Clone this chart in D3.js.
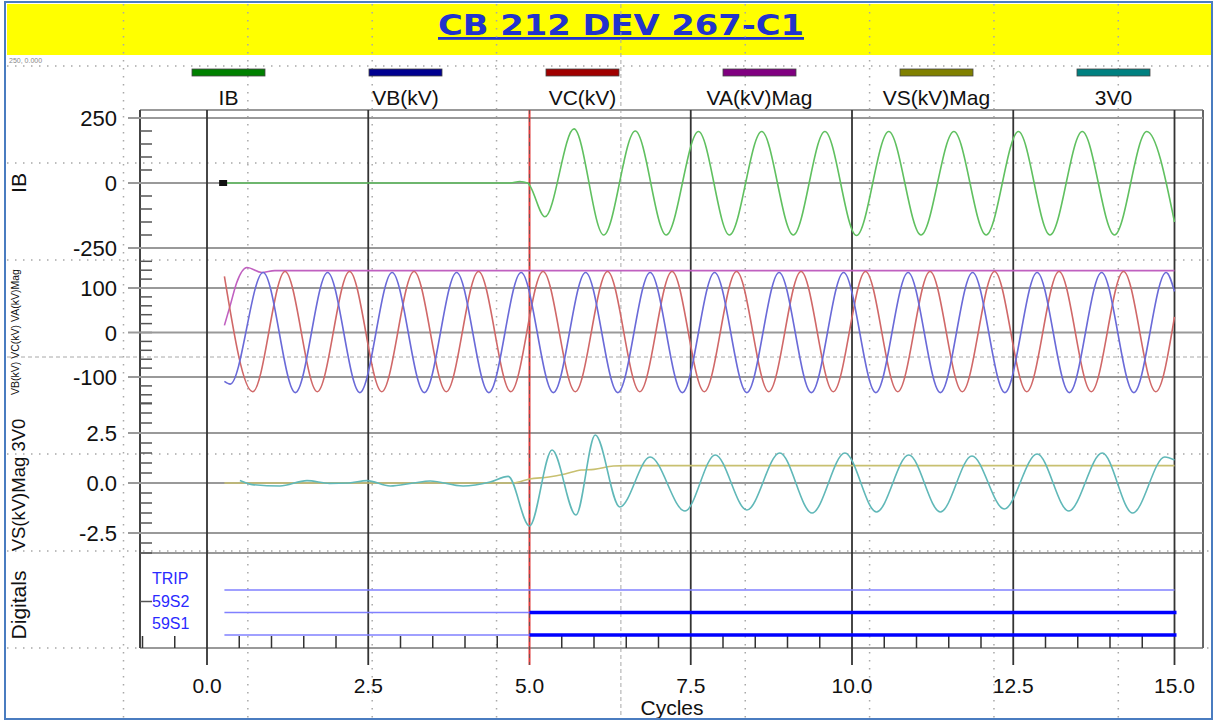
<!DOCTYPE html>
<html lang="en">
  <head>
    <meta charset="UTF-8" />
    <title>CB 212 DEV 267-C1</title>
    <script src="https://d3js.org/d3.v7.min.js"></script>
    <style>
      body {
        margin: 0;
        background: #fff;
        font-family: "Liberation Sans", Arial, sans-serif;
      }
      svg text {
        font-family: "Liberation Sans", Arial, sans-serif;
      }
    </style>
  </head>
  <body>
    <script>
      // ---- data ----
      const title = "CB 212 DEV 267-C1";
      const seriesNames = ["IB", "VB(kV)", "VC(kV)", "VA(kV)Mag", "VS(kV)Mag", "3V0"];
      const legendColors = ["#008000", "#000090", "#a00000", "#800080", "#808000", "#008080"];
      const lineColors = ["#60c060", "#6a6ad8", "#d06868", "#c060c0", "#c8c070", "#60b8b8"];

      // [cycle, value] at the turning points of each trace
      const ibPts = [
        [0.3, 0], [4.7, 0], [4.85, 6], [4.97, 0], [5.24, -130], [5.69, 208],
        [6.15, -200], [6.64, 200], [7.12, -200], [7.62, 198], [8.1, -200],
        [8.6, 198], [9.09, -200], [9.58, 198], [10.07, -202], [10.57, 198],
        [11.07, -200], [11.58, 198], [12.08, -200], [12.58, 198], [13.07, -200],
        [13.57, 198], [14.07, -200], [14.57, 198], [15.0, -150]
      ];
      const vbPts = [
        [0.27, -110], [0.36, -116], [0.87, 135], [1.37, -135], [1.87, 135],
        [2.37, -135], [2.87, 135], [3.37, -135], [3.87, 135], [4.37, -135],
        [4.87, 135], [5.37, -135], [5.87, 135], [6.37, -135], [6.87, 135],
        [7.37, -135], [7.87, 135], [8.37, -135], [8.87, 135], [9.37, -135],
        [9.87, 135], [10.37, -135], [10.87, 135], [11.37, -135], [11.87, 135],
        [12.37, -135], [12.87, 135], [13.37, -135], [13.87, 135], [14.37, -135],
        [14.87, 135], [15.0, 92]
      ];
      const vcPts = [
        [0.27, 126], [0.71, -133], [1.21, 137], [1.71, -133], [2.21, 137],
        [2.71, -133], [3.21, 137], [3.71, -133], [4.21, 137], [4.71, -133],
        [5.21, 137], [5.71, -133], [6.21, 137], [6.71, -133], [7.21, 137],
        [7.71, -133], [8.21, 137], [8.71, -133], [9.21, 137], [9.71, -133],
        [10.21, 137], [10.71, -133], [11.21, 137], [11.71, -133], [12.21, 137],
        [12.71, -133], [13.21, 137], [13.71, -133], [14.21, 137], [14.71, -133],
        [15.0, 35]
      ];
      const vaPts = [
        [0.27, 16], [0.36, 61], [0.46, 112], [0.62, 146], [0.85, 135],
        [1.05, 139], [15.0, 139]
      ];
      const vsPts = [
        [0.27, 0], [4.75, 0], [5.0, 0.2], [5.3, 0.3], [5.55, 0.45], [5.8, 0.65],
        [6.0, 0.68], [6.3, 0.85], [6.5, 0.87], [15.0, 0.87]
      ];
      const v0Pts = [
        [0.51, 0.12], [0.7, -0.08], [1.13, -0.15], [1.55, 0.12], [1.9, -0.02],
        [2.2, 0], [2.48, 0.12], [2.84, -0.15], [3.2, 0], [3.46, 0.1],
        [3.97, -0.15], [4.39, 0.05], [4.67, 0.33], [5.0, -2.15], [5.35, 1.65],
        [5.72, -1.6], [6.02, 2.4], [6.4, -1.2], [6.87, 1.3], [7.41, -1.4],
        [7.88, 1.4], [8.37, -1.35], [8.88, 1.5], [9.38, -1.5], [9.89, 1.5],
        [10.38, -1.45], [10.88, 1.4], [11.37, -1.45], [11.86, 1.35], [12.36, -1.3],
        [12.87, 1.45], [13.36, -1.4], [13.88, 1.5], [14.35, -1.5], [14.85, 1.3],
        [15.0, 1.15]
      ];

      const digitals = ["TRIP", "59S2", "59S1"];
      const digitalOn = [null, 5.0, 5.0]; // cycle where the bit goes high
      const digitalStart = 0.27;
      const digitalEnd = 15.0;
      const triggerCycle = 5.0;
      const markerCycle = 0.25;

      const xTicks = [0, 2.5, 5, 7.5, 10, 12.5, 15];
      const ibTicks = [250, 0, -250];
      const vTicks = [100, 0, -100];
      const v0Ticks = [2.5, 0, -2.5];

      // ---- layout ----
      const width = 1216;
      const height = 721;
      const plotLeft = 140;
      const plotRight = 1203;
      const plotTop = 110;
      const plotBottom = 648;

      const svg = d3
        .select("body")
        .append("svg")
        .attr("width", width)
        .attr("height", height);

      const x = d3.scaleLinear().domain([0, 15]).range([207, 1174.5]);
      const yIB = d3.scaleLinear().domain([-250, 250]).range([248, 118]);
      const yV = d3.scaleLinear().domain([-100, 100]).range([377, 288]);
      const y0 = d3.scaleLinear().domain([-2.5, 2.5]).range([533, 433]);
      const yDig = d3.scalePoint().domain(digitals).range([590, 635]);

      // plain hyphen minus, like the recorder's labels
      const hyphen = (f) => (v) => f(v).replace("\u2212", "-");

      // title bar
      svg.append("rect").attr("x", 7).attr("y", 4).attr("width", 1204).attr("height", 51).attr("fill", "#ffff00");
      svg
        .append("text")
        .attr("x", 621)
        .attr("y", 35)
        .attr("text-anchor", "middle")
        .attr("font-size", 28)
        .attr("font-weight", "bold")
        .attr("textLength", 366)
        .attr("lengthAdjust", "spacingAndGlyphs")
        .attr("fill", "#2233cc")
        .style("font-family", "'DejaVu Sans', Arial, sans-serif")
        .style("text-decoration", "underline")
        .text(title);

      // screen grid (dotted)
      const gridG = svg.append("g");
      d3.range(9).forEach((k) => {
        const gx = 123.5 + 124.35 * k;
        gridG
          .append("line")
          .attr("x1", gx).attr("x2", gx).attr("y1", 4).attr("y2", 719)
          .attr("stroke", "#a8a8a8")
          .attr("stroke-width", k === 4 ? 1 : 1.5)
          .attr("stroke-dasharray", k === 4 ? "4,3" : "1.5,6.5");
      });
      d3.range(7).forEach((k) => {
        const gy = 66 + 97 * k;
        gridG
          .append("line")
          .attr("x1", 7).attr("x2", 1211).attr("y1", gy).attr("y2", gy)
          .attr("stroke", "#a8a8a8")
          .attr("stroke-width", k === 3 ? 1 : 1.5)
          .attr("stroke-dasharray", k === 3 ? "4,3" : "1.5,6.5");
      });
      svg.append("text").attr("x", 9).attr("y", 63).attr("font-size", 7).attr("fill", "#888").text("250, 0.000");

      // legend
      const legend = svg.append("g");
      seriesNames.forEach((name, i) => {
        const cx = 228.5 + 177 * i;
        legend
          .append("rect")
          .attr("x", cx - 36.5).attr("y", 69).attr("width", 73).attr("height", 7)
          .attr("fill", legendColors[i]).attr("stroke", "#444").attr("stroke-width", 0.8);
        legend
          .append("text")
          .attr("x", cx).attr("y", 105)
          .attr("text-anchor", "middle")
          .attr("font-size", 21)
          .attr("fill", "#111")
          .text(name);
      });

      // frame
      const frame = svg.append("g");
      const hLine = (yy, color) =>
        frame.append("line").attr("x1", plotLeft).attr("x2", plotRight).attr("y1", yy).attr("y2", yy).attr("stroke", color).attr("stroke-width", 2);
      hLine(plotTop, "#999");
      hLine(553, "#999");
      hLine(plotBottom, "#999");
      frame.append("line").attr("x1", plotRight).attr("x2", plotRight).attr("y1", plotTop).attr("y2", plotBottom).attr("stroke", "#666").attr("stroke-width", 2);
      frame.append("line").attr("x1", plotLeft).attr("x2", plotLeft).attr("y1", plotTop).attr("y2", plotBottom).attr("stroke", "#444").attr("stroke-width", 2);

      // horizontal grid lines + value labels per panel
      const panels = [
        { scale: yIB, ticks: ibTicks, fmt: hyphen(d3.format("d")), minor: d3.range(-250, 251, 50) },
        { scale: yV, ticks: vTicks, fmt: hyphen(d3.format("d")), minor: d3.range(-160, 161, 20) },
        { scale: y0, ticks: v0Ticks, fmt: hyphen(d3.format(".1f")), minor: d3.range(-3.5, 4.01, 0.5) }
      ];
      panels.forEach((p) => {
        p.minor.forEach((v) => {
          frame
            .append("line")
            .attr("x1", plotLeft).attr("x2", plotLeft + 12)
            .attr("y1", p.scale(v)).attr("y2", p.scale(v))
            .attr("stroke", "#555").attr("stroke-width", 1.5);
        });
        p.ticks.forEach((v) => {
          frame
            .append("line")
            .attr("x1", 128).attr("x2", plotRight)
            .attr("y1", p.scale(v)).attr("y2", p.scale(v))
            .attr("stroke", "#999")
            .attr("stroke-width", 2);
          frame
            .append("text")
            .attr("x", 117).attr("y", p.scale(v) + 8)
            .attr("text-anchor", "end")
            .attr("font-size", 22)
            .attr("fill", "#111")
            .text(p.fmt(v));
        });
      });

      // bottom minor ticks every half cycle
      d3.range(-1, 15.01, 0.5)
        .filter((c) => c % 2.5 !== 0)
        .forEach((c) => {
          frame
            .append("line")
            .attr("x1", x(c)).attr("x2", x(c)).attr("y1", plotBottom).attr("y2", plotBottom - 12)
            .attr("stroke", "#333").attr("stroke-width", 1.5);
        });
      frame.append("line").attr("x1", plotLeft).attr("x2", plotLeft + 12).attr("y1", yDig("59S2") - 11).attr("y2", yDig("59S2") - 11).attr("stroke", "#555").attr("stroke-width", 1.5);

      // vertical major lines
      xTicks.forEach((c) => {
        frame
          .append("line")
          .attr("x1", x(c)).attr("x2", x(c)).attr("y1", plotTop).attr("y2", 665)
          .attr("stroke", c === triggerCycle ? "#e03a3a" : "#333")
          .attr("stroke-width", c === triggerCycle ? 2 : 1.8);
        frame
          .append("text")
          .attr("x", x(c)).attr("y", 693)
          .attr("text-anchor", "middle")
          .attr("font-size", 21)
          .attr("fill", "#111")
          .text(d3.format(".1f")(c));
      });
      frame
        .append("line")
        .attr("x1", x(triggerCycle)).attr("x2", x(triggerCycle)).attr("y1", plotTop).attr("y2", 665)
        .attr("stroke", "#555").attr("stroke-width", 0.8).attr("stroke-dasharray", "4,4");

      svg.append("text").attr("x", 672).attr("y", 715).attr("text-anchor", "middle").attr("font-size", 21).attr("fill", "#111").text("Cycles");

      // rotated axis titles
      const axisTitles = [
        { text: "IB", y: 183, size: 21, x: 26 },
        { text: "VB(kV) VC(kV) VA(kV)Mag", y: 332, size: 10.5, x: 19 },
        { text: "VS(kV)Mag 3V0", y: 485, size: 18.5, x: 25 },
        { text: "Digitals", y: 605, size: 21, x: 26 }
      ];
      axisTitles.forEach((t) => {
        svg
          .append("text")
          .attr("transform", `translate(${t.x},${t.y}) rotate(-90)`)
          .attr("text-anchor", "middle")
          .attr("font-size", t.size)
          .attr("fill", "#111")
          .text(t.text);
      });

      // analog traces
      const traces = [
        { pts: vaPts, y: yV, color: lineColors[3] },
        { pts: vcPts, y: yV, color: lineColors[2] },
        { pts: vbPts, y: yV, color: lineColors[1] },
        { pts: ibPts, y: yIB, color: lineColors[0] },
        { pts: vsPts, y: y0, color: lineColors[4] },
        { pts: v0Pts, y: y0, color: lineColors[5] }
      ];
      traces.forEach((t) => {
        const line = d3
          .line()
          .x((d) => x(d[0]))
          .y((d) => t.y(d[1]))
          .curve(d3.curveMonotoneX);
        svg
          .append("path")
          .datum(t.pts)
          .attr("d", line)
          .attr("fill", "none")
          .attr("stroke", t.color)
          .attr("stroke-width", 1.6);
      });

      // event marker on IB
      svg
        .append("rect")
        .attr("x", x(markerCycle) - 4).attr("y", yIB(0) - 3)
        .attr("width", 8).attr("height", 6)
        .attr("fill", "#111");

      // digitals
      digitals.forEach((name, i) => {
        const yy = yDig(name);
        svg
          .append("text")
          .attr("x", 152).attr("y", yy - 6)
          .attr("font-size", 16)
          .attr("fill", "#2a2aff")
          .text(name);
        svg
          .append("line")
          .attr("x1", x(digitalStart)).attr("x2", x(digitalEnd))
          .attr("y1", yy).attr("y2", yy)
          .attr("stroke", "#8080ff").attr("stroke-width", 1.5);
        if (digitalOn[i] !== null) {
          svg
            .append("line")
            .attr("x1", x(digitalOn[i])).attr("x2", x(digitalEnd) + 2)
            .attr("y1", yy).attr("y2", yy)
            .attr("stroke", "#0000ff").attr("stroke-width", 3.5);
        }
      });

      // outer border
      svg
        .append("rect")
        .attr("x", 5).attr("y", 2).attr("width", 1207).attr("height", 717)
        .attr("fill", "none").attr("stroke", "#4a7cc0").attr("stroke-width", 2);
    </script>
  </body>
</html>
